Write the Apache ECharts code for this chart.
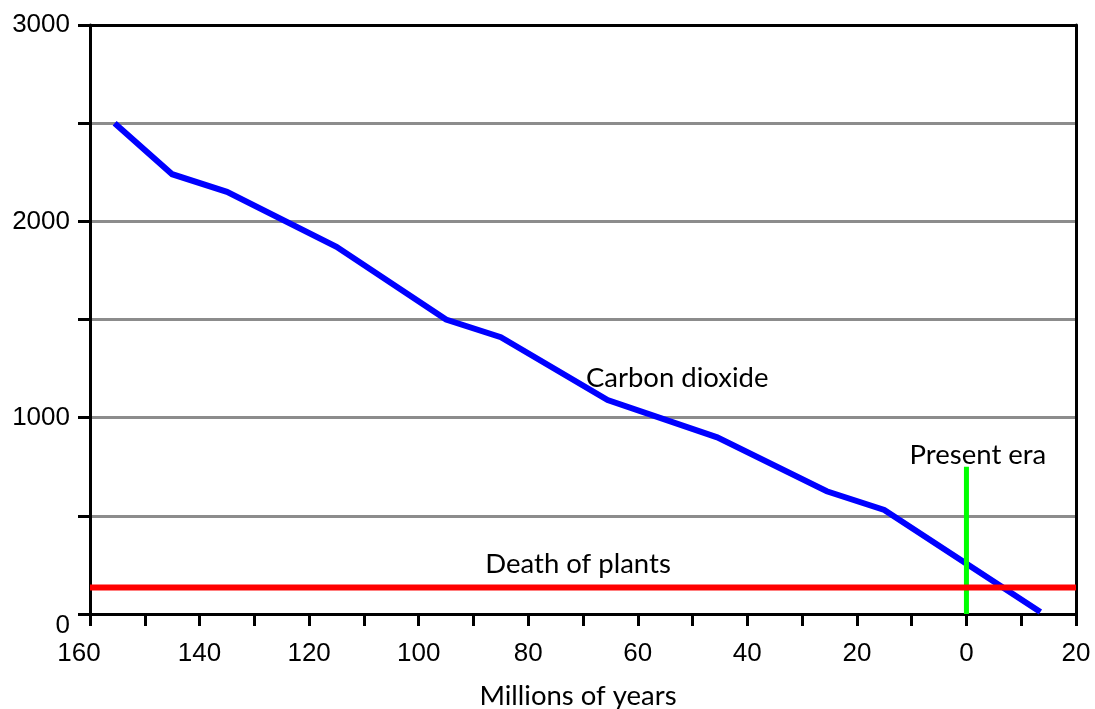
<!DOCTYPE html>
<html>
<head>
<meta charset="utf-8">
<script src="https://cdn.jsdelivr.net/npm/echarts@6/dist/echarts.min.js"></script>
<style>
html,body{margin:0;padding:0;background:#fff;}
#chart{width:1095px;height:709px;}
</style>
</head>
<body>
<div id="chart"></div>
<script>
// Time in millions of years (negative = past, positive = future)
const co2Years = [-155.5, -145, -135, -115, -95, -85, -65.5, -45.5, -25.5, -15, 13.5];
const co2Values = [2500, 2240, 2150, 1870, 1500, 1410, 1090, 900, 625, 530, 10];
const plantsDeathLevel = 135;
const presentEraYear = 0;
const presentEraTop = 750;
const xMin = -160, xMax = 20, xStep = 10;
const yMin = 0, yMax = 3000, yStep = 500;
const annotationTexts = ['Carbon dioxide', 'Present era', 'Death of plants'];
const annotationX = [-52.8, 2.1, -70.9];
const annotationY = [1202, 810, 255];
const xAxisTitle = 'Millions of years';

const TEXT_FONT = 'Lato, "Open Sans", sans-serif';
const NUM_FONT = '"Liberation Sans", Arial, sans-serif';
const co2Data = co2Years.map((x, i) => [x, co2Values[i]]);
const annotations = annotationTexts.map((t, i) => ({
  name: t,
  coord: [annotationX[i], annotationY[i]],
  symbol: 'circle', symbolSize: 1,
  itemStyle: { color: 'rgba(0,0,0,0)' },
  label: { show: true, formatter: t, position: 'inside', color: '#000', fontSize: 27.5, fontFamily: TEXT_FONT }
}));

const chart = echarts.init(document.getElementById('chart'), null, { renderer: 'canvas' });
chart.setOption({
  animation: false,
  backgroundColor: '#fff',
  grid: { left: 90, right: 19, top: 25, bottom: 95, containLabel: false, outerBoundsMode: 'none' },
  xAxis: [{
    type: 'value', min: xMin, max: xMax, interval: xStep, position: 'bottom',
    name: xAxisTitle, nameLocation: 'middle', nameGap: 68,
    nameTextStyle: { color: '#000', fontSize: 27.5, fontFamily: TEXT_FONT, padding: [0, 10, 0, 0] },
    axisLine: { show: true, onZero: false, lineStyle: { color: '#000', width: 3 } },
    axisTick: { show: true, length: 12, lineStyle: { color: '#000', width: 3 } },
    axisLabel: {
      color: '#000', fontSize: 26, fontFamily: NUM_FONT, margin: 27,
      showMinLabel: true, showMaxLabel: true,
      formatter: v => (Math.round(v) % 20 === 0 ? (v === xMin ? '{l|' + Math.abs(v) + '}' : String(Math.abs(v))) : ''),
      rich: { l: { color: '#000', fontSize: 26, fontFamily: NUM_FONT, padding: [0, 22, 0, 0] } }
    },
    splitLine: { show: false }
  }, {
    type: 'value', min: xMin, max: xMax, interval: xStep, position: 'top',
    axisLine: { show: true, onZero: false, lineStyle: { color: '#000', width: 3 } },
    axisTick: { show: false }, axisLabel: { show: false }, splitLine: { show: false }
  }],
  yAxis: [{
    type: 'value', min: yMin, max: yMax, interval: yStep, position: 'left',
    axisLine: { show: true, onZero: false, lineStyle: { color: '#000', width: 3 } },
    axisTick: { show: true, length: 12, lineStyle: { color: '#000', width: 3 } },
    axisLabel: {
      color: '#000', fontSize: 26, fontFamily: NUM_FONT, margin: 20,
      formatter: v => (v % 1000 === 0 ? (v === 0 ? '{z|0}' : String(v)) : ''),
      rich: { z: { color: '#000', fontSize: 26, fontFamily: NUM_FONT, padding: [24, 0, 0, 0] } }
    },
    splitLine: { show: true, showMinLine: false, showMaxLine: false, lineStyle: { color: '#8c8c8c', width: 3 } }
  }, {
    type: 'value', min: yMin, max: yMax, interval: yStep, position: 'right',
    axisLine: { show: true, onZero: false, lineStyle: { color: '#000', width: 3 } },
    axisTick: { show: false }, axisLabel: { show: false }, splitLine: { show: false }
  }],
  series: [{
    type: 'line', name: 'Carbon dioxide',
    data: co2Data,
    showSymbol: false, symbol: 'none',
    lineStyle: { color: '#0000ff', width: 6, join: 'miter', cap: 'butt' }, z: 3,
    markPoint: { data: annotations }
  }, {
    type: 'line', name: 'Present era',
    data: [[presentEraYear, 0], [presentEraYear, presentEraTop]],
    showSymbol: false, symbol: 'none',
    lineStyle: { color: '#00ff00', width: 5 }, z: 4
  }, {
    type: 'line', name: 'Death of plants',
    data: [[xMin, plantsDeathLevel], [xMax, plantsDeathLevel]],
    showSymbol: false, symbol: 'none',
    lineStyle: { color: '#ff0000', width: 6 }, z: 5
  }]
});
</script>
</body>
</html>
